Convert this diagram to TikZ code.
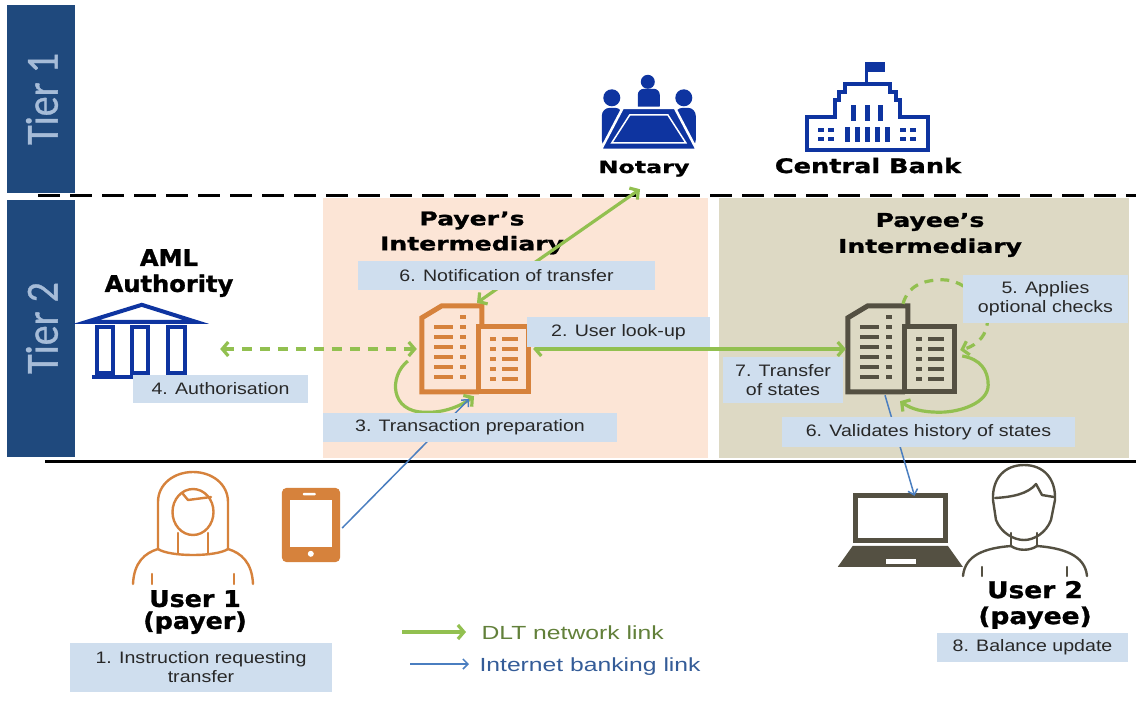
\documentclass[tikz,border=0pt]{standalone}
\usepackage{fontspec}
\setmainfont{Liberation Sans}
\newfontfamily\lblfont{Liberation Sans}[FakeStretch=1.18]
\newfontfamily\legfont{Liberation Sans}[FakeStretch=1.3]
\newfontfamily\ttlfont{DejaVu Sans Bold}[FakeBold=1.2]
\newfontfamily\tierfont{Carlito}[FakeBold=0.8]
\usetikzlibrary{arrows.meta,calc}

\definecolor{tierbar}{RGB}{31,73,125}
\definecolor{tiertext}{RGB}{166,188,216}
\definecolor{payerbg}{RGB}{252,229,214}
\definecolor{payeebg}{RGB}{221,217,196}
\definecolor{iconblue}{RGB}{14,52,160}
\definecolor{iconorange}{RGB}{214,130,60}
\definecolor{icongrey}{RGB}{84,80,66}
\definecolor{boxblue}{RGB}{207,222,238}
\definecolor{boxtext}{RGB}{40,40,40}
\definecolor{dltgreen}{RGB}{146,192,80}
\definecolor{netblue}{RGB}{74,126,192}
\definecolor{dlttext}{RGB}{98,128,58}
\definecolor{nettext}{RGB}{52,92,152}

% bold heading font: size, line skip, horizontal stretch
\newcommand\ttl[3]{\ttlfont\addfontfeature{FakeStretch=#3}\fontsize{#1}{#2}\selectfont}

% office building icon drawn inside the box of node #1
\newcommand\drawbank[2]{%
  \begin{scope}[shift={(#1.north west)}, color=#2]
    \draw[line width=5pt, line join=miter] (57,86) -- (0,86) -- (0,12) -- (20,0) -- (60,0) -- (60,22);
    \draw[line width=5pt] (57,21) rectangle (107,86);
    \fill (38,9.5) rectangle (44,13.5);
    \foreach \y in {19.5,29.5,39.5,49.5,59.5,69.5} {
      \fill (12,\y) rectangle (31,\y+4);
      \fill (38,\y) rectangle (44,\y+4);
    }
    \foreach \y in {31,41,51,61,71} {
      \fill (68,\y) rectangle (74,\y+4);
      \fill (80,\y) rectangle (96,\y+4);
    }
  \end{scope}}

\tikzset{
  lbl/.style={fill=boxblue, text=boxtext, inner sep=0pt, align=center,
    font=\lblfont\fontsize{16.6}{19}\selectfont},
  icon/.style={inner sep=0pt, minimum width=#1},
  dltline/.style={draw=dltgreen, line width=3.2pt, >={Straight Barb[length=6pt,width=14pt]}},
  netline/.style={draw=netblue, line width=1.5pt, >={Straight Barb[length=5pt,width=10pt]}},
  tiertag/.style={text=tiertext, rotate=90, font=\tierfont\fontsize{40}{40}\selectfont},
}

\begin{document}
\begin{tikzpicture}[x=1pt, y=-1pt]
\useasboundingbox (0,0) rectangle (1136,724);
\fill[white] (0,0) rectangle (1136,724);

% intermediary areas
\fill[payerbg] (323,198) rectangle (708,458);
\fill[payeebg] (719,198) rectangle (1129,458);

% tier bars
\fill[tierbar] (7,5) rectangle (75,193);
\fill[tierbar] (7,200) rectangle (75,457);
\node[tiertag] (tier1) at (42,99) {\scalebox{1}[1.15]{Tier 1}};
\node[tiertag] (tier2) at (42,328) {\scalebox{1}[1.15]{Tier 2}};

% tier separators
\draw[line width=3pt, dash pattern=on 22pt off 10pt] (38,195) -- (1136,195);
\draw[line width=3pt] (45,461) -- (1136,461);

% icon boxes
\node[icon=98, minimum height=78] (notaryicon) at (649,111) {};
\node[icon=125, minimum height=90] (cbicon) at (867.5,107) {};
\node[icon=113, minimum height=92] (amlicon) at (141.5,349) {};
\node[icon=108, minimum height=86] (payerbank) at (476,349) {};
\node[icon=108, minimum height=86] (payeebank) at (902,349) {};
\node[icon=126, minimum height=115] (user1icon) at (193,527.5) {};
\node[icon=58, minimum height=74] (phone) at (311,525) {};
\node[icon=125, minimum height=74] (laptop) at (900.5,530) {};
\node[icon=125, minimum height=112] (user2icon) at (1025.5,521) {};

% notary: three people round a table
\begin{scope}[shift={(notaryicon.north west)}, color=iconblue]
  \fill (48,10) circle[radius=7pt];
  \fill[rounded corners=6pt] (38,40) rectangle (60,17);
  \fill (12,26) circle[radius=8.5pt];
  \fill (84,26) circle[radius=8.5pt];
  \fill[rounded corners=8pt] (2,76) rectangle (23,36);
  \fill[rounded corners=8pt] (75,76) rectangle (96,36);
  \filldraw[draw=white, line width=2.5pt, line join=miter] (23,36) -- (75,36) -- (97,78) -- (1,78) -- cycle;
  \draw[white, line width=1.5pt] (30,43) -- (68,43) -- (86,71) -- (12,71) -- cycle;
\end{scope}

% central bank building with flag
\begin{scope}[shift={(cbicon.north west)}, color=iconblue]
  \fill (60,0) rectangle (80,10);
  \fill (60,0) rectangle (63,20);
  \draw[line width=4.5pt, line join=miter] (2,88) -- (2,55) -- (30,55) -- (30,38) -- (34,38) -- (34,30)
    -- (40,30) -- (40,22) -- (85,22) -- (85,30) -- (91,30) -- (91,38) -- (95,38) -- (95,55)
    -- (123,55) -- (123,88) -- cycle;
  \foreach \x in {49,62.5,76} \fill (\x-2.5,43) rectangle (\x+2.5,59);
  \foreach \x in {42.5,52.5,62.5,72.5,82.5} \fill (\x-2.5,65) rectangle (\x+2.5,80);
  \foreach \x in {16.5,26.5,98.5,108.5} {
    \fill (\x-3,66) rectangle (\x+3,70.5);
    \fill (\x-3,75) rectangle (\x+3,79.5);
  }
\end{scope}

% AML authority: columned building
\begin{scope}[shift={(amlicon.north west)}, color=iconblue, line width=4pt]
  \draw[line join=miter] (57,2) -- (111,19) -- (2,19) -- cycle;
  \draw (12,24) rectangle (28,70);
  \draw (47,24) rectangle (63,70);
  \draw (83,24) rectangle (100,70);
  \draw (7,74.5) -- (106,74.5);
\end{scope}

% intermediaries
\drawbank{payerbank}{iconorange}
\drawbank{payeebank}{icongrey}

% user 1 (payer)
\begin{scope}[iconorange, line width=2.4pt, line cap=round, line join=round]
  \draw (158,549) -- (158,502) .. controls (158,484) and (174,472) .. (193,472)
        .. controls (212,472) and (228,484) .. (228,502) -- (228,549);
  \draw (158,549) .. controls (170,557) and (216,557) .. (228,549);
  \draw (193,512) ellipse[x radius=20.5pt, y radius=23pt];
  \draw (183,494) -- (188,500) -- (211,497);
  \draw (178,533) -- (178,553);
  \draw (208,533) -- (208,553);
  \draw (158,549) .. controls (145,553) and (134,562) .. (133,584);
  \draw (228,549) .. controls (241,553) and (252,562) .. (253,584);
  \draw (152,574) -- (152,584);
  \draw (234,574) -- (234,584);
\end{scope}

% phone
\fill[iconorange, rounded corners=5pt] (phone.north west) rectangle (phone.south east);
\fill[white] ($(phone.north west)+(8,12)$) rectangle ($(phone.north west)+(50,59)$);
\fill[white, rounded corners=1pt] ($(phone.north west)+(21,5)$) rectangle ($(phone.north west)+(34,7.5)$);
\fill[white] ($(phone.north west)+(29,66)$) circle[radius=3pt];

% laptop
\begin{scope}[shift={(laptop.north west)}, color=icongrey]
  \draw[line width=5pt] (17.5,2.5) rectangle (107.5,48);
  \fill (15,53) -- (110,53) -- (125,74) -- (0,74) -- cycle;
  \fill[white] (48,66) rectangle (78,71);
\end{scope}

% user 2 (payee)
\begin{scope}[icongrey, line width=2.4pt, line cap=round, line join=round]
  \draw (996,520) -- (993,500) .. controls (992,478) and (1005,465) .. (1024,465)
        .. controls (1043,465) and (1056,478) .. (1055,500) -- (1051,520)
        .. controls (1046,533) and (1034,540) .. (1024,540)
        .. controls (1014,540) and (1001,533) .. cycle;
  \draw (995,498) .. controls (1012,497) and (1028,494) .. (1036,484) -- (1042,495) -- (1054,497);
  \draw (1011,533) -- (1011,546);
  \draw (1037,533) -- (1037,546);
  \draw (1011,546) .. controls (1018,551) and (1030,551) .. (1037,546);
  \draw (1011,546) .. controls (985,548) and (965,555) .. (963,576);
  \draw (1037,546) .. controls (1063,548) and (1085,555) .. (1087,576);
  \draw (982,567) -- (982,576);
  \draw (1067,567) -- (1067,576);
\end{scope}

% headings
\node[anchor=base, font=\ttl{17}{17}{1.4}] (notarylbl) at (644,173) {Notary};
\node[anchor=base, font=\ttl{20}{20}{1.28}] (cblbl) at (868,173) {Central Bank};
\node[align=center, font=\ttl{23}{26}{1.05}] (amllbl) at (169,273) {AML\\Authority};
\node[align=center, font=\ttl{19}{25}{1.32}] (payerlbl) at (472,233) {Payer’s\\Intermediary};
\node[align=center, font=\ttl{19}{26}{1.32}] (payeelbl) at (930,235) {Payee’s\\Intermediary};
\node[align=center, font=\ttl{23}{22}{1.1}] (user1lbl) at (195,612) {User 1\\(payer)};
\node[align=center, font=\ttl{23}{26}{1.15}] (user2lbl) at (1035,605) {User 2\\(payee)};

% DLT network links
\draw[dltline, <->] ($(payerbank.north)+(1,-3)$) -- ($(notarylbl.south)+(-4,9)$);
\draw[dltline, <->, dash pattern=on 10pt off 8pt] ($(amlicon.east)+(22,0)$) -- ($(payerbank.west)+(-5,0)$);
\draw[dltline, <->] ($(payerbank.east)+(3,0)$) -- ($(payeebank.west)+(-2,0)$);
\draw[dltline, ->] ($(payerbank.west)+(-14,12)$) .. controls +(-19,15) and +(-35,0) ..
  ($(payerbank.south west)+(3,20)$) .. controls +(20,1) and +(-12,9) .. ($(payerbank.south)+(-2,4)$);
\draw[dltline, ->, dash pattern=on 9pt off 7pt] ($(payeebank.north)+(1,-2)$) .. controls +(5,-18) and +(-20,0) ..
  ($(payeebank.north)+(41,-26)$) .. controls +(22,0) and +(2,-20) ..
  ($(payeebank.north east)+(31,18)$) .. controls +(-2,16) and +(12,-3) .. ($(payeebank.east)+(4,1)$);
\draw[dltline, ->] ($(payeebank.east)+(6,7)$) .. controls +(18,3) and +(0,-15) ..
  ($(payeebank.east)+(32,36)$) .. controls +(0,18) and +(20,0) ..
  ($(payeebank.south)+(38,20)$) .. controls +(-18,0) and +(12,8) .. ($(payeebank.south)+(-2,9)$);

% internet banking links
\draw[netline, ->] ($(phone.east)+(2,3)$) -- ($(payerbank.south)+(-7,7)$);
\draw[netline, ->] ($(payeebank.south)+(-17,3)$) -- ($(laptop.north)+(14,3)$);

% step labels
\node[lbl, minimum width=297, minimum height=29] (s6n) at (506.5,275.5) {6. Notification of transfer};
\node[lbl, minimum width=183, minimum height=30] (s2) at (618.5,332) {2. User look-up};
\node[lbl, minimum width=294, minimum height=29] (s3) at (470,427.5) {3. Transaction preparation};
\node[lbl, minimum width=175, minimum height=28] (s4) at (220.5,389) {4. Authorisation};
\node[lbl, minimum width=165, minimum height=48] (s5) at (1045.5,299) {5. Applies\\optional checks};
\node[lbl, minimum width=120, minimum height=46] (s7) at (783,380) {7. Transfer\\of states};
\node[lbl, minimum width=293, minimum height=30] (s6v) at (928.5,432) {6. Validates history of states};
\node[lbl, minimum width=262, minimum height=49] (s1) at (201,667.5) {1. Instruction requesting\\transfer};
\node[lbl, minimum width=191, minimum height=29] (s8) at (1032.5,647.5) {8. Balance update};

% legend
\node[anchor=base west, text=dlttext, font=\legfont\fontsize{19}{19}\selectfont] (lgdlt) at (478,639) {DLT network link};
\node[anchor=base west, text=nettext, font=\legfont\fontsize{19}{19}\selectfont] (lgnet) at (476,671) {Internet banking link};
\coordinate (lgdltA) at (402,632);
\coordinate (lgnetA) at (410,664);
\draw[dltline, ->] (lgdltA) -- (lgdltA -| {$(lgdlt.west)+(-12,0)$});
\draw[netline, ->] (lgnetA) -- (lgnetA -| {$(lgnet.west)+(-7,0)$});
\end{tikzpicture}
\end{document}
